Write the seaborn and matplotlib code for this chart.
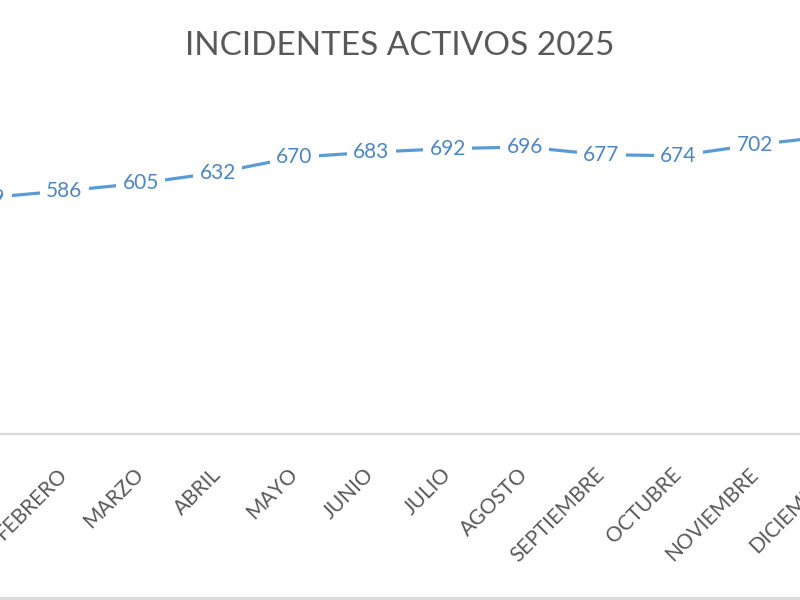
import numpy as np
import pandas as pd
import matplotlib
matplotlib.use('Agg')
import matplotlib.pyplot as plt
import seaborn as sns
from matplotlib.lines import Line2D

months = ['ENERO', 'FEBRERO', 'MARZO', 'ABRIL', 'MAYO', 'JUNIO', 'JULIO',
          'AGOSTO', 'SEPTIEMBRE', 'OCTUBRE', 'NOVIEMBRE', 'DICIEMBRE']
incidents = [569, 586, 605, 632, 670, 683, 692, 696, 677, 674, 702, 723]
title = 'INCIDENTES ACTIVOS 2025'

sns.set_style('white')
plt.rcParams['font.family'] = ['Lato', 'DejaVu Sans']

df = pd.DataFrame({'mes': np.arange(len(months)), 'incidentes': incidents})

fig = plt.figure(figsize=(8, 6), dpi=100)
# the chart is cut at both sides, so the plot area runs past the canvas
ax = fig.add_axes([-51 / 800, (600 - 434) / 600, 921 / 800, (434 - 98) / 600])

sns.lineplot(data=df, x='mes', y='incidentes', ax=ax, color='#5B9BD5',
             linewidth=2.3, zorder=2)

for x, v in zip(df['mes'], df['incidentes']):
    ax.text(x, v, str(v), ha='center', va='center', fontsize=15,
            color='#4F86C0', zorder=3,
            bbox=dict(boxstyle='square,pad=0.3', fc='white', ec='none'))

ax.set_xlim(-0.5, len(months) - 0.5)
ax.set_ylim(-24, 819)
ax.set_xticks(df['mes'])
ax.set_xticklabels(months, rotation=45, ha='right', va='center',
                   rotation_mode='anchor', fontsize=15, color='#595959')
ax.tick_params(axis='x', length=0, pad=27)
ax.set_yticks([])
ax.set_xlabel('')
ax.set_ylabel('')

sns.despine(ax=ax, left=True, top=True, right=True)
ax.spines['bottom'].set_color('#d9d9d9')
ax.spines['bottom'].set_linewidth(1.6)

fig.text(0.5, 1 - 46 / 600, title, ha='center', va='center', fontsize=24,
         color='#595959')

# chart border at the bottom edge
fig.add_artist(Line2D([0, 1], [2.5 / 600, 2.5 / 600], transform=fig.transFigure,
                      color='#d9d9d9', linewidth=2))

plt.savefig('out.png', dpi=100)
